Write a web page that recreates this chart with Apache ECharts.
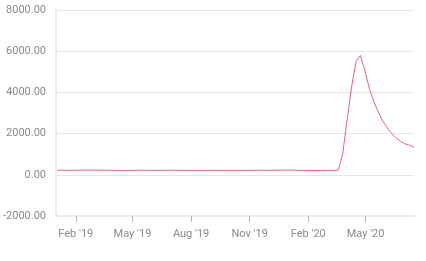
<!DOCTYPE html>
<html>
<head>
<meta charset="utf-8">
<script src="https://cdn.jsdelivr.net/npm/echarts@6/dist/echarts.min.js"></script>
<style>html,body{margin:0;padding:0;background:#fff}#c{width:426px;height:261px}</style>
</head>
<body>
<div id="c"></div>
<script>
// Weekly values (thousands), Thursdays from 2019-01-03
const startDate = [2019, 0, 3];
const values = [
  219, 221, 220, 215, 220, 225, 231, 229, 226, 226, 223, 225, 217,
  213, 207, 201, 206, 212, 220, 225, 220, 216, 215, 218, 218, 221,
  222, 219, 214, 212, 212, 213, 214, 214, 215, 216, 212, 212, 212,
  212, 214, 214, 215, 215, 217, 221, 221, 219, 218, 224, 225, 226,
  233,
  224, 216, 213, 214, 212, 210, 209, 213, 214, 212, 226, 1002, 2667,
  4268, 5506, 5790, 5040, 4173, 3543, 3045, 2608, 2286, 2002, 1790,
  1620, 1500, 1435, 1340
];
const tickDates = [[2019,1,1],[2019,4,1],[2019,7,1],[2019,10,1],[2020,1,1],[2020,4,1]];
const tickLabels = ["Feb '19", "May '19", "Aug '19", "Nov '19", "Feb '20", "May '20"];
const yMin = -2000, yMax = 8000, yStep = 2000;

const seriesData = values.map((v, i) => {
  const d = new Date(startDate[0], startDate[1], startDate[2] + 7 * i);
  return [d.getTime(), v];
});
const tickTimes = tickDates.map(d => new Date(d[0], d[1], d[2]).getTime());
const labelMap = {};
tickTimes.forEach((t, i) => labelMap[t] = tickLabels[i]);

const chart = echarts.init(document.getElementById('c'), null, {renderer: 'canvas'});
chart.setOption({
  animation: false,
  grid: {left: 52, right: 12, top: 10, bottom: 45, containLabel: false},
  xAxis: {
    type: 'value',
    min: new Date(2019, 0, 1).getTime(),
    max: seriesData[seriesData.length - 1][0],
    axisLine: {show: true, onZero: false, lineStyle: {color: '#ebebeb', width: 2}},
    axisTick: {show: true, customValues: tickTimes, length: 6, lineStyle: {color: '#b0b0b0'}},
    axisLabel: {
      customValues: tickTimes,
      formatter: v => labelMap[v] || '',
      color: '#8a8a8a', fontSize: 11, fontFamily: 'Roboto', margin: 13
    },
    splitLine: {show: false}
  },
  yAxis: {
    type: 'value',
    min: yMin, max: yMax, interval: yStep,
    axisLine: {show: true, onZero: false, lineStyle: {color: '#ebebeb', width: 2}},
    axisTick: {show: false},
    axisLabel: {formatter: v => v.toFixed(2), color: '#8a8a8a', fontSize: 11, fontFamily: 'Roboto', margin: 10},
    splitLine: {lineStyle: {color: '#e6e6e6', width: 1}}
  },
  series: [{
    type: 'line',
    data: seriesData,
    showSymbol: false,
    lineStyle: {color: '#e2647a', width: 1},
    itemStyle: {color: '#e2647a'}
  }]
});
</script>
</body>
</html>
